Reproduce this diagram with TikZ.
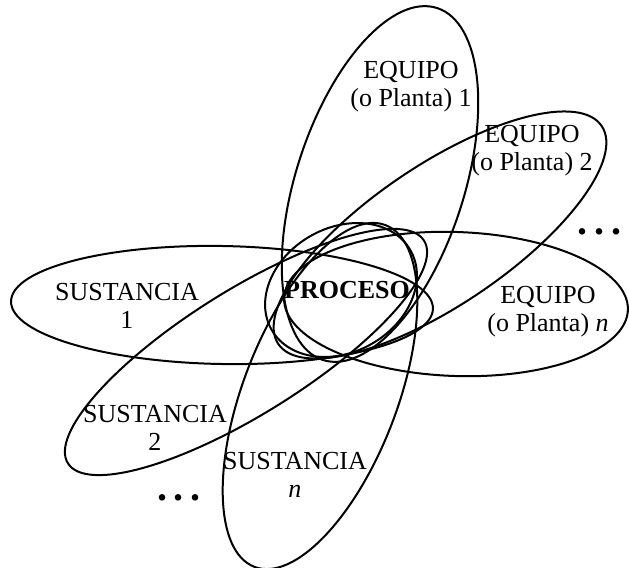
\documentclass[tikz,border=0pt]{standalone}
\usepackage{fontspec}
\setmainfont{Liberation Serif}
\usetikzlibrary{positioning}
\tikzset{
  lbl/.style={align=center, inner sep=0pt, font=\fontsize{13}{14}\selectfont},
  dots/.style={anchor=base, inner sep=0pt, font=\fontsize{20}{20}\selectfont\bfseries}
}
\begin{document}
\begin{tikzpicture}[x=0.5pt, y=-0.5pt, line width=1pt]
  \useasboundingbox (0,0) rectangle (629,568);
  % centre x / centre y / half axes / angle
  \foreach \cx/\cy/\ra/\rb/\ang in {380/184/185/84/72, 440/235/195/70/34, 456/304/172/72/-2,
    222/305/211/59/-1, 246/352/210/62/32, 320/396/183/77/69, 341/290/80/62/30} {
    \draw[rotate around={\ang:(\cx,\cy)}] (\cx,\cy) ellipse [x radius=\ra, y radius=\rb];
  }
  \node[lbl] (eq1) at (411,87) {EQUIPO\\(o Planta) 1};
  \node[lbl] (eq2) at (532,151) {EQUIPO\\(o Planta) 2};
  \node[lbl] (eqn) at (548,312) {EQUIPO\\(o Planta) \textit{n}};
  \node[lbl] (su1) at (127,306) {SUSTANCIA\\1};
  \node[lbl] (su2) at (155,428) {SUSTANCIA\\2};
  \node[lbl] (sun) at (295,475) {SUSTANCIA\\\textit{n}};
  \node[lbl, font=\fontsize{13}{14}\selectfont\bfseries] (proc) at (347,290) {PROCESO};
  \node[dots] (moreq) at (600,234) {.\hspace{3.5pt}.\hspace{3.5pt}.};
  \node[dots] (moresu) at (179,501) {.\hspace{3.5pt}.\hspace{3.5pt}.};
\end{tikzpicture}
\end{document}
